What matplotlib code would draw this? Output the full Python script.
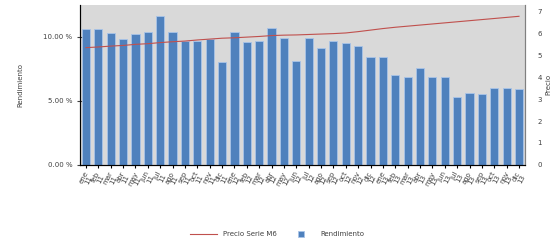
import matplotlib
matplotlib.use("Agg")
import matplotlib.pyplot as plt
import numpy as np
from matplotlib.ticker import FuncFormatter
from matplotlib.lines import Line2D

months = ["ene", "feb", "mar", "abr", "may", "jun", "jul", "ago", "sep", "oct", "nov", "dic"]
years = ["11", "12", "13"]
categories = [f"{m}\n{y}" for y in years for m in months]

rendimiento = [10.6, 10.6, 10.3, 9.8, 10.2, 10.4, 11.6, 10.4, 9.7, 9.7,
               9.8, 8.0, 10.4, 9.6, 9.7, 10.7, 9.9, 8.1, 9.9, 9.1,
               9.7, 9.5, 9.3, 8.4, 8.4, 7.0, 6.9, 7.6, 6.9, 6.9,
               5.3, 5.6, 5.5, 6.0, 6.0, 5.9]

precio = [5.35, 5.38, 5.42, 5.45, 5.5, 5.53, 5.58, 5.62, 5.65, 5.7,
          5.74, 5.78, 5.8, 5.83, 5.86, 5.9, 5.92, 5.93, 5.95, 5.97,
          5.99, 6.02, 6.08, 6.15, 6.22, 6.28, 6.33, 6.38, 6.43, 6.48,
          6.53, 6.58, 6.63, 6.68, 6.73, 6.78]

fig = plt.figure(figsize=(5.54, 2.45), dpi=100)
ax = fig.add_axes([0.144, 0.327, 0.804, 0.653])
ax.set_facecolor("#d9d9d9")
x = np.arange(len(categories))
bars = ax.bar(x, rendimiento, width=0.66, color="#4f81bd", edgecolor="#a9c4e8",
              linewidth=0.6, label="Rendimiento", zorder=2)
ax.set_xlim(-0.5, len(categories) - 0.5)
ax.set_ylim(0, 12.5)
ax.set_yticks([0, 5, 10])
ax.yaxis.set_major_formatter(FuncFormatter(lambda v, p: f"{v:.2f} %"))
ax.set_xticks(x)
ax.set_xticklabels(categories, rotation=62, fontsize=5, ha="center", color="#404040",
                   linespacing=0.9)
ax.tick_params(axis="y", labelsize=5, colors="#404040", direction="inout", length=4, width=0.8)
ax.tick_params(axis="x", direction="inout", length=4, width=0.8, pad=2)
ax.set_ylabel("Rendimiento", fontsize=5, color="#404040", labelpad=14)
ax.spines["top"].set_visible(False)
ax.spines["left"].set_color("#303030")
ax.spines["bottom"].set_color("#303030")
ax.spines["right"].set_color("#808080")

ax2 = ax.twinx()
line, = ax2.plot(x, precio, color="#c0504d", linewidth=0.8, label="Precio Serie M6", zorder=3)
ax2.set_ylim(0, 7.3)
ax2.set_yticks(range(0, 8))
ax2.tick_params(axis="y", labelsize=5, colors="#404040", length=0, pad=9)
ax2.set_ylabel("Precio", fontsize=5, color="#404040", labelpad=2)
ax2.spines["top"].set_visible(False)
ax2.spines["right"].set_color("#808080")
ax.set_zorder(1)
ax2.set_zorder(2)
ax2.patch.set_visible(False)

square = Line2D([], [], marker="s", linestyle="none", markersize=5,
                markerfacecolor="#4f81bd", markeredgecolor="#a9c4e8", markeredgewidth=0.6)
fig.legend([line, square], ["Precio Serie M6", "Rendimiento"], loc="center",
           bbox_to_anchor=(0.5, 0.045), ncol=2, frameon=False, fontsize=5,
           handlelength=4, columnspacing=1.5, labelcolor="#404040")

fig.savefig("out.png", dpi=100)
